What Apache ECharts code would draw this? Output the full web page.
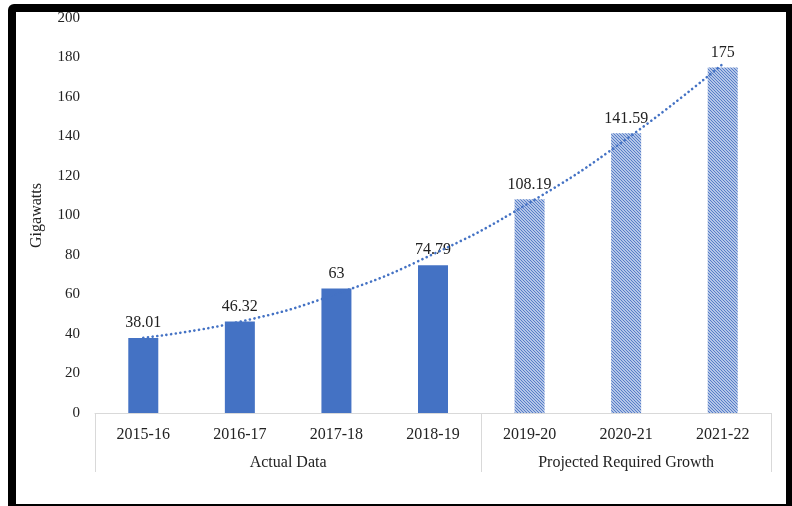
<!DOCTYPE html>
<html>
<head>
<meta charset="utf-8">
<script src="https://cdn.jsdelivr.net/npm/echarts@6/dist/echarts.min.js"></script>
<style>
  html, body { margin: 0; padding: 0; background: #fff; }
  #wrap { position: relative; width: 792px; height: 506px; overflow: hidden; }
  #chart { position: absolute; left: 0; top: 0; width: 792px; height: 506px; }
  #frame {
    position: absolute; left: 8px; top: 4px; right: -2px; bottom: -6px;
    border: 8px solid #000; border-radius: 6px 0 0 0; pointer-events: none;
  }
</style>
</head>
<body>
<div id="wrap">
  <div id="chart"></div>
  <div id="frame"></div>
</div>
<script>
// 分类
var categories = ['2015-16', '2016-17', '2017-18', '2018-19', '2019-20', '2020-21', '2021-22']
// 实际数据
var actualData = [38.01, 46.32, 63, 74.79, '-', '-', '-']
// 预测数据
var projectedData = ['-', '-', '-', '-', 108.19, 141.59, 175]
// 趋势线
var trendData = [38.1, 46.2, 60.3, 80.4, 106.5, 138.6, 176.7]
// 分组
var groupNames = ['Actual Data', 'Projected Required Growth']
var groupBounds = [0, 4, 7]

var blue = '#4472c4'
var serif = '"Liberation Serif", "DejaVu Serif", serif'

// hatch pattern for projected bars
function hatch() {
  var c = document.createElement('canvas')
  c.width = 3
  c.height = 3
  var ctx = c.getContext('2d')
  ctx.fillStyle = '#dce5f4'
  ctx.fillRect(0, 0, 3, 3)
  ctx.strokeStyle = '#5079c6'
  ctx.lineWidth = 1.1
  ctx.beginPath()
  ctx.moveTo(-1, -1); ctx.lineTo(4, 4)
  ctx.moveTo(-1, 2); ctx.lineTo(1, 4)
  ctx.moveTo(2, -1); ctx.lineTo(4, 1)
  ctx.stroke()
  return c
}

var labelStyle = {
  show: true,
  position: 'top',
  distance: 7,
  color: '#222',
  fontSize: 16,
  fontFamily: serif
}

var groupMid = groupNames.map(function (n, i) {
  return (groupBounds[i] + groupBounds[i + 1]) / 2
})

var chart = echarts.init(document.getElementById('chart'))
chart.setOption({
  backgroundColor: '#fff',
  animation: false,
  grid: { left: 95, right: 21, top: 18, bottom: 93 },
  xAxis: [{
    type: 'category',
    data: categories,
    axisLine: { lineStyle: { color: '#d9d9d9', width: 1 } },
    axisTick: { show: false },
    axisLabel: { color: '#222', fontSize: 16, fontFamily: serif, margin: 14, interval: 0 }
  }, {
    type: 'value',
    position: 'bottom',
    min: 0,
    max: 7,
    axisLine: { show: false },
    splitLine: { show: false },
    axisTick: {
      show: true,
      length: 59,
      customValues: groupBounds,
      lineStyle: { color: '#d9d9d9', width: 1 }
    },
    axisLabel: {
      customValues: groupMid,
      margin: 42,
      color: '#222',
      fontSize: 16,
      fontFamily: serif,
      formatter: function (v) {
        return groupNames[groupMid.indexOf(v)]
      }
    }
  }],
  yAxis: {
    type: 'value',
    min: 0,
    max: 200,
    interval: 20,
    name: 'Gigawatts',
    nameLocation: 'middle',
    nameRotate: 90,
    nameGap: 50,
    nameTextStyle: { color: '#222', fontSize: 16, fontFamily: serif },
    axisLine: { show: false },
    axisTick: { show: false },
    splitLine: { show: false },
    axisLabel: { color: '#222', fontSize: 15, fontFamily: serif, margin: 15 }
  },
  series: [{
    name: 'Actual',
    type: 'bar',
    stack: 'total',
    barWidth: 30,
    itemStyle: { color: blue },
    label: labelStyle,
    data: actualData
  }, {
    name: 'Projected',
    type: 'bar',
    stack: 'total',
    barWidth: 30,
    itemStyle: { color: { image: hatch(), repeat: 'repeat' } },
    label: labelStyle,
    data: projectedData
  }, {
    name: 'Trend',
    type: 'line',
    smooth: true,
    symbol: 'none',
    z: 5,
    lineStyle: { color: blue, width: 2.6, type: [0.1, 4.6], cap: 'round' },
    data: trendData
  }]
})
</script>
</body>
</html>
